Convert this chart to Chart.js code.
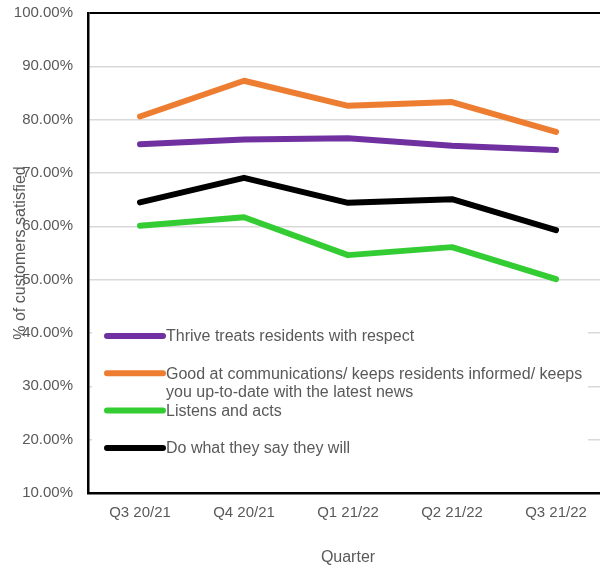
<!DOCTYPE html>
<html>
<head>
<meta charset="utf-8">
<script src="https://cdn.jsdelivr.net/npm/chart.js@4/dist/chart.umd.min.js"></script>
<style>
html,body{margin:0;padding:0;background:#fff;overflow:hidden;width:600px;height:570px;}
canvas{display:block;}
</style>
</head>
<body>
<canvas id="c" width="610" height="570"></canvas>
<script>
const quarters = ['Q3 20/21', 'Q4 20/21', 'Q1 21/22', 'Q2 21/22', 'Q3 21/22'];
const respect = [75.4, 76.3, 76.5, 75.1, 74.3];
const communications = [80.6, 87.3, 82.6, 83.3, 77.7];
const listensActs = [60.1, 61.7, 54.6, 56.1, 50.1];
const doWhatTheySay = [64.5, 69.1, 64.4, 65.1, 59.3];
const seriesNames = [
  'Thrive treats residents with respect',
  'Good at communications/ keeps residents informed/ keeps you up-to-date with the latest news',
  'Listens and acts',
  'Do what they say they will'
];
const seriesColors = ['#7030A0', '#ED7D31', '#33CC33', '#000000'];
const yMin = 10, yMax = 100, yStep = 10;

const FONT = '"Liberation Sans", Arial, sans-serif';
const GREY = '#595959';

function ds(label, data, color) {
  return {
    label, data,
    borderColor: color, backgroundColor: color,
    borderWidth: 6, pointRadius: 0, pointHoverRadius: 0,
    borderCapStyle: 'round', borderJoinStyle: 'round',
    tension: 0, fill: false
  };
}

const legendPlugin = {
  id: 'insideLegend',
  afterDraw(chart) {
    const ctx = chart.ctx;
    ctx.save();
    ctx.fillStyle = '#ffffff';
    ctx.fillRect(92, 300, 496, 180);
    ctx.font = '16px ' + FONT;
    ctx.textBaseline = 'middle';
    ctx.textAlign = 'left';
    const x0 = 107, x1 = 163, tx = 166, maxW = 420;
    chart.data.datasets.forEach((d, i) => {
      const y = 336 + i * 37.3;
      ctx.strokeStyle = d.borderColor;
      ctx.lineWidth = 6;
      ctx.lineCap = 'round';
      ctx.beginPath();
      ctx.moveTo(x0, y);
      ctx.lineTo(x1, y);
      ctx.stroke();
      const words = d.label.split(' ');
      const lines = [];
      let cur = '';
      words.forEach(w => {
        const t = cur ? cur + ' ' + w : w;
        if (ctx.measureText(t).width > maxW && cur) { lines.push(cur); cur = w; }
        else cur = t;
      });
      if (cur) lines.push(cur);
      ctx.fillStyle = GREY;
      lines.forEach((ln, k) => ctx.fillText(ln, tx, y + 1 + k * 18.5));
    });
    ctx.restore();
  }
};

new Chart(document.getElementById('c'), {
  type: 'line',
  data: {
    labels: quarters,
    datasets: [
      ds(seriesNames[0], respect, seriesColors[0]),
      ds(seriesNames[1], communications, seriesColors[1]),
      ds(seriesNames[2], listensActs, seriesColors[2]),
      ds(seriesNames[3], doWhatTheySay, seriesColors[3])
    ]
  },
  options: {
    responsive: false,
    animation: false,
    layout: { padding: { top: 13, right: 2, bottom: 0, left: 0 } },
    plugins: { legend: { display: false }, tooltip: { enabled: false } },
    scales: {
      x: {
        offset: true,
        afterFit(s) { s.height = 77; },
        grid: { display: false, drawTicks: false },
        border: { display: true, color: '#000', width: 2.5 },
        ticks: { color: GREY, font: { family: FONT, size: 15 }, padding: 11, maxRotation: 0 },
        title: { display: true, text: 'Quarter', color: GREY, font: { family: FONT, size: 16 }, padding: { top: 0, bottom: 3 } }
      },
      y: {
        min: yMin, max: yMax,
        afterFit(s) { s.width = 88; s.paddingTop = 0; s.paddingBottom = 0; },
        grid: {
          drawTicks: false,
          color: c => (c.tick && c.tick.value === yMax) ? '#000' : '#d9d9d9',
          lineWidth: c => (c.tick && c.tick.value === yMax) ? 2 : 1.5
        },
        border: { display: true, color: '#000', width: 2.5 },
        ticks: {
          stepSize: yStep, color: GREY, font: { family: FONT, size: 15 }, padding: 15,
          callback: v => v.toFixed(2) + '%'
        },
        title: { display: true, text: '% of customers satisfied', color: GREY, font: { family: FONT, size: 16 }, padding: { top: 11, bottom: 0 } }
      }
    }
  },
  plugins: [legendPlugin]
});
</script>
</body>
</html>
